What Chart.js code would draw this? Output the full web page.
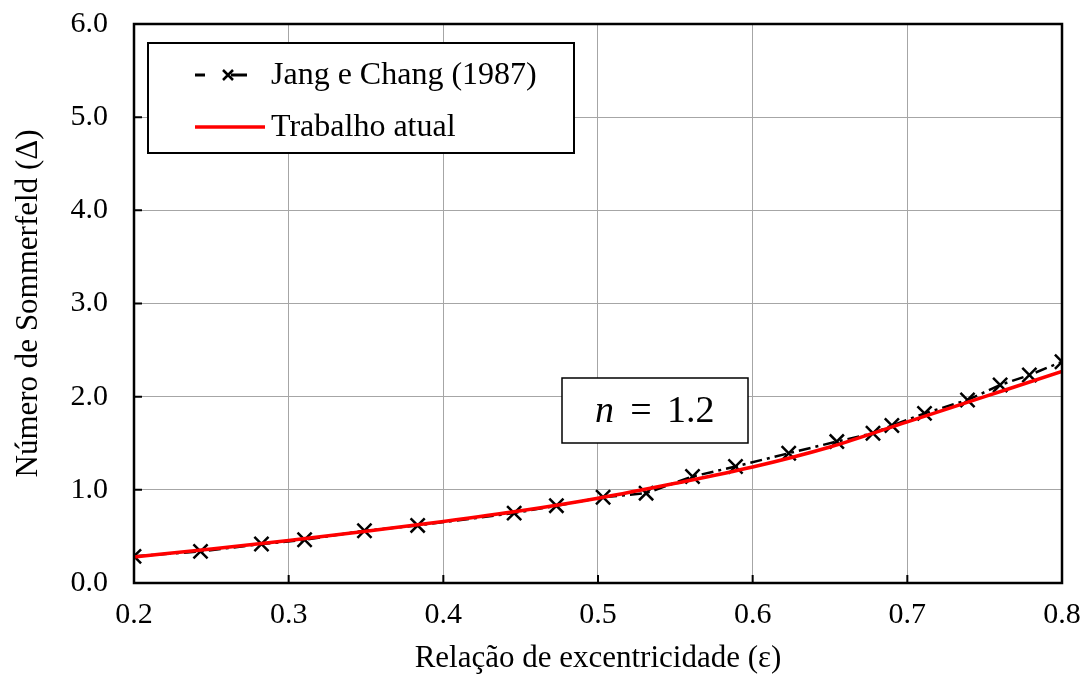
<!DOCTYPE html>
<html lang="pt">
<head>
    <meta charset="UTF-8">
    <title>Número de Sommerfeld</title>
    <script src="https://cdn.jsdelivr.net/npm/chart.js"></script>
    <style>
        html, body { margin: 0; padding: 0; background: #fff; }
        #wrap { width: 1086px; height: 674px; }
    </style>
</head>
<body>
<div id="wrap"><canvas id="chart" width="1086" height="674"></canvas></div>
<script>
    // Jang e Chang (1987)
    const jangX = [0.2, 0.243, 0.2824, 0.3103, 0.349, 0.3834, 0.4458, 0.4731, 0.5033, 0.5311, 0.5611,
                   0.5889, 0.6233, 0.6544, 0.6778, 0.69, 0.7111, 0.7389, 0.76, 0.7789, 0.8];
    const jangY = [0.286, 0.339, 0.418, 0.464, 0.561, 0.618, 0.75, 0.83, 0.92, 0.964, 1.143,
                   1.25, 1.393, 1.518, 1.607, 1.69, 1.821, 1.964, 2.125, 2.232, 2.375];

    // Trabalho atual
    const workX = [0.2, 0.25, 0.3, 0.35, 0.4, 0.45, 0.5, 0.55, 0.6, 0.65, 0.7, 0.75, 0.8];
    const workY = [0.28, 0.365, 0.455, 0.555, 0.66, 0.775, 0.91, 1.07, 1.245, 1.46, 1.73, 2.0, 2.27];

    const seriesNames = ['Jang e Chang (1987)', 'Trabalho atual'];
    const xTitle = 'Relação de excentricidade (ε)';
    const yTitle = 'Número de Sommerfeld (Δ)';
    const note = ['n', '=', '1.2'];

    const serif = '"Liberation Serif", "Times New Roman", serif';

    const toPoints = (xs, ys) => xs.map((x, i) => ({ x: x, y: ys[i] }));

    // box round the plot, inner ticks, legend and the n = 1.2 note
    const extras = {
        id: 'extras',
        afterDraw(chart) {
            const ctx = chart.ctx;
            const a = chart.chartArea;
            const sx = chart.scales.x, sy = chart.scales.y;
            ctx.save();
            ctx.strokeStyle = '#000';
            ctx.lineWidth = 2.5;
            ctx.strokeRect(a.left, a.top, a.right - a.left, a.bottom - a.top);

            ctx.lineWidth = 2;
            ctx.beginPath();
            sx.ticks.forEach(t => {
                const px = sx.getPixelForValue(t.value);
                ctx.moveTo(px, a.bottom);
                ctx.lineTo(px, a.bottom - 8);
            });
            sy.ticks.forEach(t => {
                const py = sy.getPixelForValue(t.value);
                ctx.moveTo(a.left, py);
                ctx.lineTo(a.left + 8, py);
            });
            ctx.stroke();

            // legend
            ctx.fillStyle = '#fff';
            ctx.fillRect(148, 43, 426, 110);
            ctx.lineWidth = 2;
            ctx.strokeRect(148, 43, 426, 110);

            const ds = chart.data.datasets;
            const jang = ds.find(d => d.label === seriesNames[0]);
            const work = ds.find(d => d.label === seriesNames[1]);
            ctx.font = '32px ' + serif;
            ctx.textBaseline = 'middle';
            ctx.textAlign = 'left';

            // entry 1
            ctx.strokeStyle = jang.borderColor;
            ctx.lineWidth = 3;
            ctx.setLineDash([10, 26, 16]);
            ctx.beginPath();
            ctx.moveTo(195, 75);
            ctx.lineTo(256, 75);
            ctx.stroke();
            ctx.setLineDash([]);
            ctx.lineWidth = 2.5;
            ctx.beginPath();
            ctx.moveTo(223, 70); ctx.lineTo(233, 80);
            ctx.moveTo(233, 70); ctx.lineTo(223, 80);
            ctx.stroke();
            ctx.fillStyle = '#000';
            ctx.fillText(jang.label, 271, 76);

            // entry 2
            ctx.strokeStyle = work.borderColor;
            ctx.lineWidth = work.borderWidth;
            ctx.beginPath();
            ctx.moveTo(195, 127);
            ctx.lineTo(265, 127);
            ctx.stroke();
            ctx.fillText(work.label, 271, 128);

            // note box
            ctx.fillStyle = '#fff';
            ctx.fillRect(562, 378, 186, 65);
            ctx.strokeStyle = '#000';
            ctx.lineWidth = 1.5;
            ctx.strokeRect(562, 378, 186, 65);
            ctx.fillStyle = '#000';
            ctx.font = 'italic 38px ' + serif;
            ctx.fillText(note[0], 595, 412);
            ctx.font = '38px ' + serif;
            ctx.textAlign = 'center';
            ctx.fillText(note[1], 641, 412);
            ctx.textAlign = 'left';
            ctx.fillText(note[2], 667, 412);
            ctx.restore();
        }
    };

    const ctx = document.getElementById('chart').getContext('2d');
    new Chart(ctx, {
        type: 'scatter',
        data: {
            datasets: [
                {
                    label: seriesNames[1],
                    data: toPoints(workX, workY),
                    showLine: true,
                    borderColor: '#ff0000',
                    backgroundColor: '#ff0000',
                    borderWidth: 3.5,
                    pointRadius: 0,
                    cubicInterpolationMode: 'monotone'
                },
                {
                    label: seriesNames[0],
                    data: toPoints(jangX, jangY),
                    showLine: true,
                    borderColor: '#000',
                    backgroundColor: '#000',
                    borderWidth: 2.5,
                    borderDash: [12, 5, 3, 5],
                    pointStyle: 'crossRot',
                    pointRadius: 10,
                    pointBorderWidth: 2.5,
                    pointBorderColor: '#000',
                    tension: 0
                }
            ]
        },
        plugins: [extras],
        options: {
            responsive: false,
            animation: false,
            layout: { padding: { top: 24, right: 24, left: 0, bottom: 0 } },
            plugins: {
                legend: { display: false },
                tooltip: { enabled: false }
            },
            scales: {
                x: {
                    type: 'linear',
                    min: 0.2,
                    max: 0.8,
                    afterFit: s => { s.height = 91; s.paddingLeft = 0; s.paddingRight = 0; },
                    ticks: {
                        stepSize: 0.1,
                        padding: 14,
                        color: '#000',
                        font: { family: serif, size: 30 },
                        callback: v => v.toFixed(1)
                    },
                    grid: { color: '#a6a6a6', lineWidth: 1, drawTicks: false },
                    border: { display: false },
                    title: {
                        display: true,
                        text: xTitle,
                        color: '#000',
                        font: { family: serif, size: 31, lineHeight: 1 },
                        padding: { top: 0, bottom: 0 }
                    }
                },
                y: {
                    min: 0,
                    max: 6,
                    afterFit: s => { s.width = 134; s.paddingTop = 0; s.paddingBottom = 0; },
                    ticks: {
                        stepSize: 1,
                        padding: 26,
                        color: '#000',
                        font: { family: serif, size: 30 },
                        callback: v => v.toFixed(1)
                    },
                    grid: { color: '#a6a6a6', lineWidth: 1, drawTicks: false },
                    border: { display: false },
                    title: {
                        display: true,
                        text: yTitle,
                        color: '#000',
                        font: { family: serif, size: 31 },
                        padding: { top: 10, bottom: 0 }
                    }
                }
            }
        }
    });
</script>
</body>
</html>
